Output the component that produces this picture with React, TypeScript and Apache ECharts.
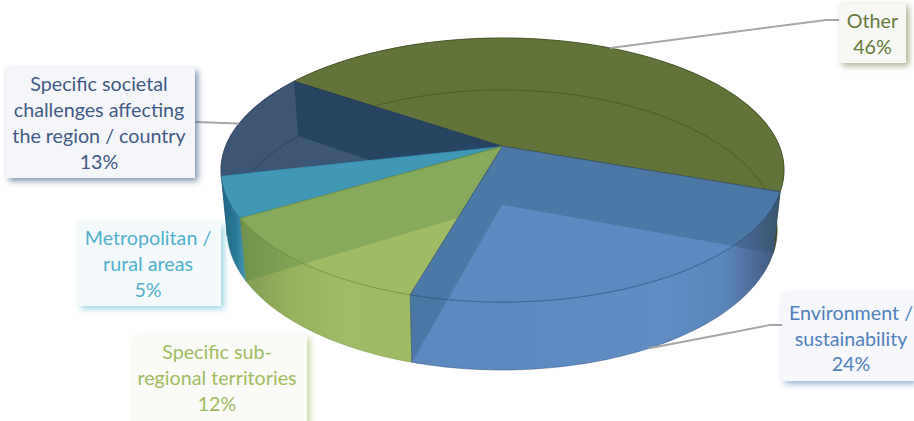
import React, { useEffect, useRef } from "react";
import * as echarts from "echarts";

// ---- data, clockwise from the first slice
const categories = [
  "Other",
  "Environment /\nsustainability",
  "Specific sub-\nregional territories",
  "Metropolitan /\nrural areas",
  "Specific societal\nchallenges affecting\nthe region / country",
];
const shares = [46, 24, 12, 5, 13];
const percentLabels = ["46%", "24%", "12%", "5%", "13%"];

// ---- styles
const START = 304;
const TOTAL = shares.reduce((a, b) => a + b, 0);
const TOP = { cx: 502.5, cy: 170, rx: 281.5, ry: 132 };
const FLOOR = { cx: 502, cy: 230, rx: 275, ry: 140 };
const D = 0.18;
const S = Math.sqrt(1 - D * D);
const topColors = ["#63743a", "#5b8ac0", "#a0bb66", "#4098b5", "#3d5676"];
const edgeColors = [
  "rgba(60,72,32,0.8)",
  "rgba(40,72,115,0.75)",
  "rgba(105,135,55,0.8)",
  "rgba(35,105,135,0.6)",
  "rgba(35,58,90,0.7)",
];
const textColors = ["#657a3a", "#4f81bd", "#9fbb62", "#4fb0cc", "#3f5a84"];
const boxFills = ["#f7f8f4", "#f6f8fb", "#fafbf6", "#f4fafc", "#f5f6fa"];
const shadowColors = [
  "rgba(101,122,58,0.55)",
  "rgba(79,129,189,0.6)",
  "rgba(159,187,98,0.6)",
  "rgba(79,176,204,0.55)",
  "rgba(63,90,132,0.65)",
];
const boxes = [
  { x: 839, y: 3, w: 67, h: 60, tx: 872.5, ty: 33.5 },
  { x: 782, y: 293, w: 132, h: 88, tx: 851, ty: 338 },
  { x: 133, y: 335, w: 174, h: 92, tx: 217, ty: 377.5 },
  { x: 78, y: 222, w: 143, h: 84, tx: 148, ty: 263.5 },
  { x: 6, y: 68, w: 189, h: 110, tx: 99, ty: 122.5 },
];
const LINE_HEIGHT = 25.7;
const FONT_SIZE = 19.7;

// cumulative slice angles
const angles: [number, number][] = [];
{
  let a = START;
  for (const v of shares) {
    const b = a + (v / TOTAL) * 360;
    angles.push([a, b]);
    a = b;
  }
}

function project(e: typeof TOP, deg: number, r = 1): number[] {
  const t = (deg * Math.PI) / 180;
  const x = r * Math.sin(t);
  const y = -r * Math.cos(t);
  const den = 1 - D * y;
  return [e.cx + (e.rx * x * S) / den, e.cy + (e.ry * (y - D)) / den];
}
function arc(e: typeof TOP, a: number, b: number): number[][] {
  const n = Math.max(2, Math.ceil(Math.abs(b - a)));
  const pts: number[][] = [];
  for (let i = 0; i <= n; i++) pts.push(project(e, a + ((b - a) * i) / n));
  return pts;
}
const poly = (points: number[][], style: any) => ({ type: "polygon", shape: { points }, style, silent: true });
const line = (points: number[][], stroke: string, lineWidth = 1) => ({
  type: "polyline",
  shape: { points },
  style: { stroke, lineWidth, fill: "none" },
  silent: true,
});
const grad = (stops: [number, string][]) =>
  new echarts.graphic.LinearGradient(0, 0, 1, 0, stops.map(([offset, color]) => ({ offset, color })));

const topFace = (i: number) => {
  const [a, b] = angles[i];
  return [project(TOP, 0, 0), ...arc(TOP, a, b)];
};
const wall = (i: number) => {
  const [a, b] = angles[i];
  return [...arc(TOP, a, b), ...arc(FLOOR, b, a)];
};
const quad = (deg: number) => [
  project(TOP, deg),
  project(TOP, 0, 0),
  project(FLOOR, 0, 0),
  project(FLOOR, deg),
];

const wallFills = [
  "#3a4622",
  grad([[0, "#5a88bf"], [0.7, "#5f8dc4"], [0.85, "#5a85b8"], [0.95, "#4a6590"], [1, "#3a5670"]]),
  grad([[0, "#7f9a52"], [0.3, "#97b25f"], [0.6, "#a1bc66"], [1, "#9fba64"]]),
  grad([[0, "#1f6382"], [0.6, "#2b7a98"], [1, "#4a9ab6"]]),
  "#3d5676",
];
const BLUE_OVER = "rgba(40,80,100,0.3)";
const GREEN_OVER = "rgba(80,130,65,0.3)";
const NAVY_OVER = "rgba(20,50,80,0.5)";

// paint order, back to front
const paintOrder = [0, 4, 3, 2, 1];

function renderSlice(params: any) {
  const i = paintOrder[params.dataIndex];
  const [a, b] = angles[i];
  const children: any[] = [];
  children.push(poly(wall(i), { fill: wallFills[i], stroke: edgeColors[i], lineWidth: 0.6 }));
  children.push(poly(topFace(i), { fill: topColors[i], stroke: edgeColors[i], lineWidth: 0.8 }));
  if (i === 0) children.push(line(arc(FLOOR, a, b), "rgba(62,75,32,0.55)"));
  if (i === 4) {
    children.push(poly(quad(b), { fill: NAVY_OVER }));
    children.push(line(arc(FLOOR, a, b), "rgba(38,62,95,0.85)"));
  }
  if (i === 2) children.push(poly(quad(b), { fill: GREEN_OVER }));
  if (i === 1) {
    children.push(poly(quad(a), { fill: BLUE_OVER }));
    children.push(poly(quad(b), { fill: BLUE_OVER }));
  }
  return { type: "group", children };
}

// leader lines start at the middle of their slice's rim
const mid = (i: number) => (angles[i][0] + angles[i][1]) / 2;
const leaders = [
  [project(TOP, mid(0)), [826, 20], [839, 20]],
  [project(FLOOR, mid(1)), [770, 325], [782, 325]],
  [project(TOP, mid(4)), [195, 122]],
];

export default function App() {
  const ref = useRef<HTMLDivElement>(null);
  useEffect(() => {
    document.body.style.margin = "0";
    const chart = echarts.init(ref.current!, undefined, { renderer: "svg" });
    const graphic: any[] = [];
    leaders.forEach((points) =>
      graphic.push({
        type: "polyline",
        z: 10,
        shape: { points },
        style: { stroke: "#a6a6a6", lineWidth: 2, fill: "none" },
        silent: true,
      })
    );
    categories.forEach((name, i) => {
      const b = boxes[i];
      graphic.push({
        type: "rect",
        z: 11,
        shape: { x: b.x, y: b.y, width: b.w, height: b.h },
        style: {
          fill: boxFills[i],
          shadowBlur: 6,
          shadowOffsetX: 3,
          shadowOffsetY: 3,
          shadowColor: shadowColors[i],
        },
        silent: true,
      });
      graphic.push({
        type: "text",
        z: 12,
        x: b.tx,
        y: b.ty,
        style: {
          text: `${name}\n${percentLabels[i]}`,
          fill: textColors[i],
          font: `${FONT_SIZE}px Lato, sans-serif`,
          lineHeight: LINE_HEIGHT,
          align: "center",
          verticalAlign: "middle",
        },
        silent: true,
      });
    });
    chart.setOption({
      animation: false,
      backgroundColor: "#ffffff",
      series: [
        {
          type: "custom",
          coordinateSystem: "none",
          silent: true,
          data: paintOrder.map((i) => ({ name: categories[i], value: shares[i] })),
          renderItem: renderSlice,
        },
      ],
      graphic,
    });
    return () => chart.dispose();
  }, []);
  return <div ref={ref} style={{ position: "absolute", left: 0, top: 0, width: 914, height: 421, overflow: "hidden" }} />;
}
